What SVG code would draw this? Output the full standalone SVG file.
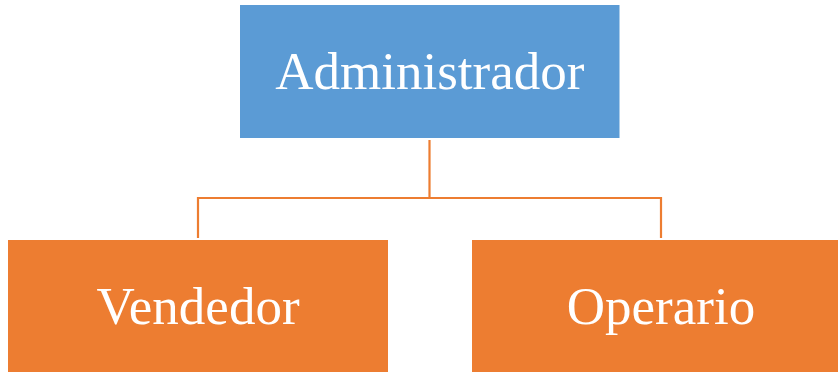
<svg xmlns="http://www.w3.org/2000/svg" width="838" height="372" viewBox="0 0 838 372">
  <style>
    .lbl { font-family: "Liberation Serif", "Times New Roman", serif; font-size: 53px; fill: #ffffff; text-anchor: middle; }
    .top { fill: #5B9BD5; }
    .sub { fill: #ED7D31; }
    .wire { fill: none; stroke: #ED7D31; stroke-width: 2.2; }
  </style>
  <rect width="838" height="372" fill="#ffffff"/>
  <g id="connectors">
    <polyline class="wire" points="429.5,140 429.5,198 198,198 198,238"/>
    <polyline class="wire" points="429.5,198 661,198 661,238"/>
  </g>
  <g id="administrador">
    <rect class="top" x="240" y="5" width="379.5" height="133"/>
    <text class="lbl" x="429.75" y="89">Administrador</text>
  </g>
  <g id="vendedor">
    <rect class="sub" x="8" y="240" width="380" height="133"/>
    <text class="lbl" x="198" y="324">Vendedor</text>
  </g>
  <g id="operario">
    <rect class="sub" x="472" y="240" width="380" height="133"/>
    <text class="lbl" x="661" y="324">Operario</text>
  </g>
</svg>
